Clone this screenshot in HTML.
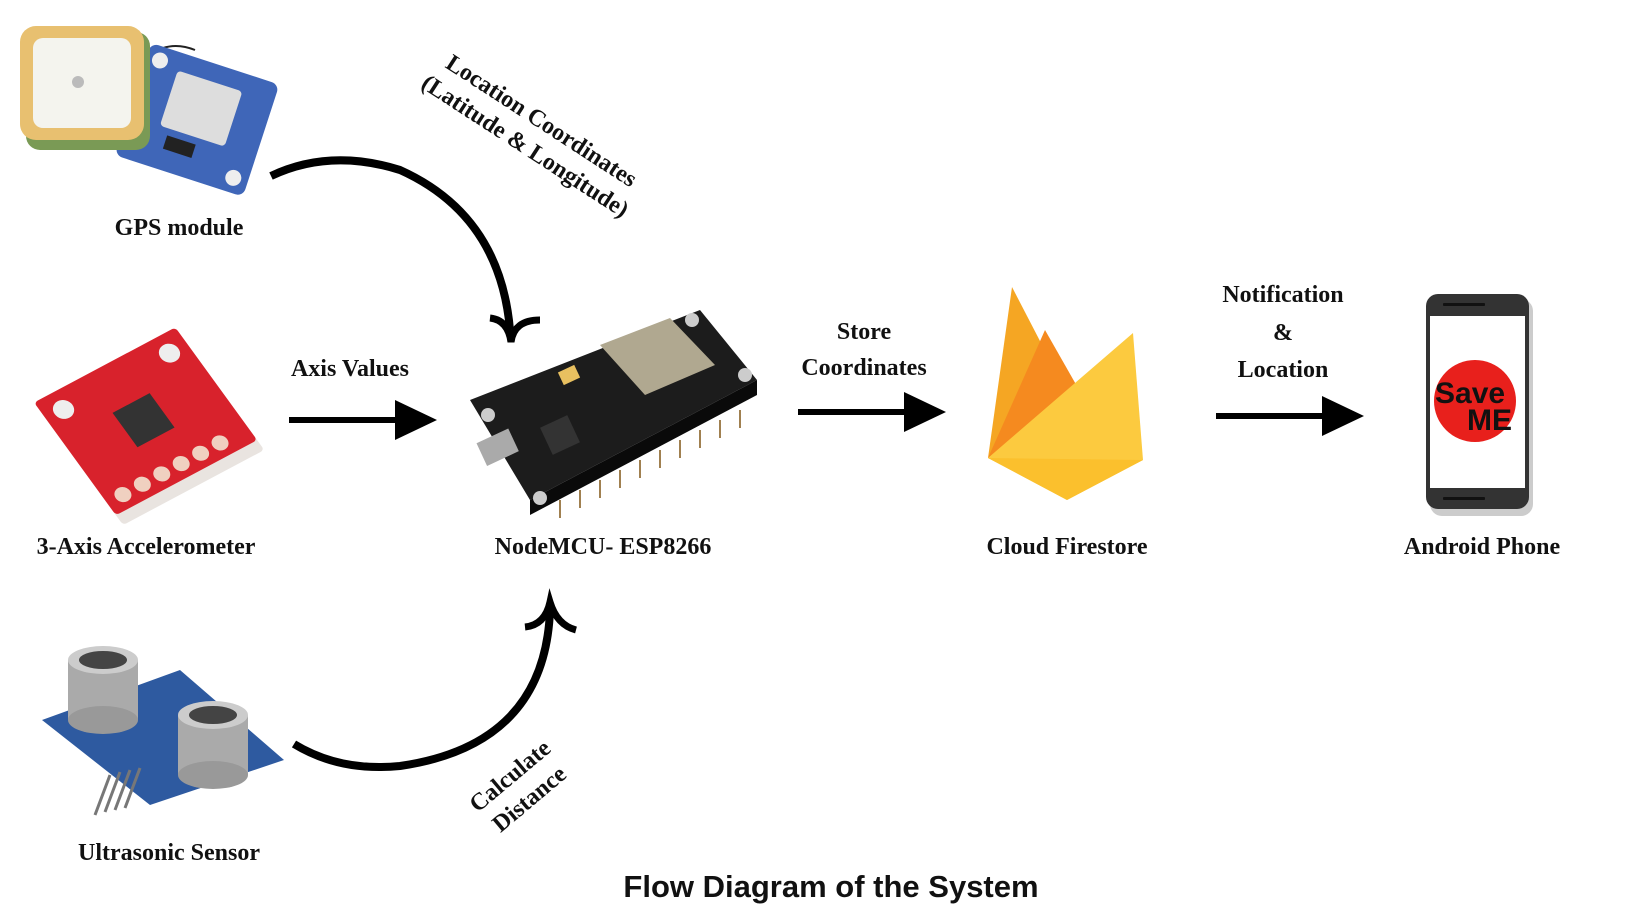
<!DOCTYPE html>
<html><head><meta charset="utf-8"><style>
body{margin:0;background:#fff;width:1640px;height:924px;overflow:hidden;position:relative}
svg{position:absolute;left:0;top:0}
.l{font-family:"Liberation Serif",serif;font-weight:bold;font-size:24px;fill:#111}
</style></head><body>
<svg width="1640" height="924" viewBox="0 0 1640 924">
<!-- GPS module -->
<g>
<path d="M150 55 Q170 40 195 50" stroke="#222" stroke-width="2" fill="none"/>
<g transform="rotate(18 200 125)"><rect x="128" y="62" width="135" height="118" rx="8" fill="#3f66b8"/>
<rect x="162" y="80" width="68" height="58" rx="4" fill="#ddd"/><circle cx="142" cy="76" r="8" fill="#eee"/><circle cx="248" cy="165" r="8" fill="#eee"/>
<rect x="172" y="145" width="30" height="14" fill="#222"/></g>
<rect x="26" y="32" width="124" height="118" rx="14" fill="#7a9a55"/>
<rect x="20" y="26" width="124" height="114" rx="16" fill="#e8c070"/>
<rect x="33" y="38" width="98" height="90" rx="10" fill="#f4f4ee"/>
<circle cx="78" cy="82" r="6" fill="#bbb"/>
</g>
<text class="l" x="179" y="235" text-anchor="middle">GPS module</text>
<!-- Accelerometer -->
<g transform="translate(148 428) rotate(-28) skewX(8) translate(-148 -428)">
<rect x="70" y="362" width="160" height="140" rx="4" fill="#e9e4e0"/>
<rect x="70" y="352" width="160" height="138" rx="4" fill="#d8222c"/>
<rect x="128" y="398" width="42" height="42" fill="#333"/>
<circle cx="88" cy="475" r="8" fill="#f0d0c0"/><circle cx="110" cy="475" r="8" fill="#f0d0c0"/><circle cx="132" cy="475" r="8" fill="#f0d0c0"/><circle cx="154" cy="475" r="8" fill="#f0d0c0"/><circle cx="176" cy="475" r="8" fill="#f0d0c0"/><circle cx="198" cy="475" r="8" fill="#f0d0c0"/>
<circle cx="90" cy="372" r="10" fill="#eee"/><circle cx="210" cy="372" r="10" fill="#eee"/>
</g>
<text class="l" x="146" y="554" text-anchor="middle">3-Axis Accelerometer</text>
<!-- Ultrasonic -->
<g>
<polygon points="42,720 180,670 284,760 150,805" fill="#2e5aa0"/>
<path d="M110 775 L95 815 M120 772 L105 812 M130 770 L115 810 M140 768 L125 808" stroke="#777" stroke-width="3"/>
<rect x="68" y="660" width="70" height="60" fill="#aaa"/><ellipse cx="103" cy="720" rx="35" ry="14" fill="#999"/><ellipse cx="103" cy="660" rx="35" ry="14" fill="#ccc"/><ellipse cx="103" cy="660" rx="24" ry="9" fill="#444"/>
<rect x="178" y="715" width="70" height="60" fill="#aaa"/><ellipse cx="213" cy="775" rx="35" ry="14" fill="#999"/><ellipse cx="213" cy="715" rx="35" ry="14" fill="#ccc"/><ellipse cx="213" cy="715" rx="24" ry="9" fill="#444"/>
</g>
<text class="l" x="169" y="860" text-anchor="middle">Ultrasonic Sensor</text>
<!-- NodeMCU -->
<g>
<polygon points="470,400 700,310 757,380 530,500" fill="#1c1c1c"/>
<polygon points="530,500 757,380 757,395 530,515" fill="#0a0a0a"/>
<g stroke="#a08050" stroke-width="2"><path d="M560 500 v18 M580 490 v18 M600 480 v18 M620 470 v18 M640 460 v18 M660 450 v18 M680 440 v18 M700 430 v18 M720 420 v18 M740 410 v18"/></g>
<polygon points="600,345 670,318 715,365 645,395" fill="#b0a890"/>
<rect x="560" y="368" width="18" height="14" fill="#e8c060" transform="rotate(-25 569 375)"/>
<rect x="480" y="435" width="35" height="25" fill="#aaa" transform="rotate(-25 497 447)"/>
<rect x="545" y="420" width="30" height="30" fill="#333" transform="rotate(-25 560 435)"/>
<circle cx="488" cy="415" r="7" fill="#ccc"/><circle cx="692" cy="320" r="7" fill="#ccc"/><circle cx="745" cy="375" r="7" fill="#ccc"/><circle cx="540" cy="498" r="7" fill="#ccc"/>
</g>
<text class="l" x="603" y="554" text-anchor="middle">NodeMCU- ESP8266</text>
<!-- Firebase -->
<g>
<polygon points="988,458 1012,287 1068,395" fill="#f5a623"/>
<polygon points="988,458 1045,330 1082,395" fill="#f58a1f"/>
<polygon points="988,458 1133,333 1143,460 1067,500" fill="#fcca3f"/>
<polygon points="988,458 1067,500 1143,460" fill="#fbc02d"/>
</g>
<text class="l" x="1067" y="554" text-anchor="middle">Cloud Firestore</text>
<!-- Phone -->
<g>
<rect x="1430" y="299" width="103" height="217" rx="12" fill="#ccc"/>
<rect x="1426" y="294" width="103" height="215" rx="12" fill="#333"/>
<rect x="1430" y="316" width="95" height="172" fill="#fff"/>
<rect x="1443" y="303" width="42" height="3" rx="1" fill="#111"/>
<rect x="1443" y="497" width="42" height="3" rx="1" fill="#111"/>
<circle cx="1475" cy="401" r="41" fill="#e8201c"/>
<text x="1435" y="403" font-family="Liberation Sans,sans-serif" font-size="30" font-weight="bold" fill="#111">Save</text>
<text x="1467" y="430" font-family="Liberation Sans,sans-serif" font-size="30" font-weight="bold" fill="#111">ME</text>
</g>
<text class="l" x="1482" y="554" text-anchor="middle">Android Phone</text>
<!-- straight arrows -->
<g fill="#000">
<rect x="289" y="417" width="110" height="6"/><polygon points="395,400 437,420 395,440"/>
<rect x="798" y="409" width="110" height="6"/><polygon points="904,392 946,412 904,432"/>
<rect x="1216" y="413" width="110" height="6"/><polygon points="1322,396 1364,416 1322,436"/>
</g>
<text class="l" x="350" y="376" text-anchor="middle">Axis Values</text>
<text class="l" x="864" y="339" text-anchor="middle">Store</text>
<text class="l" x="864" y="375" text-anchor="middle">Coordinates</text>
<text class="l" x="1283" y="302" text-anchor="middle">Notification</text>
<text class="l" x="1283" y="340" text-anchor="middle">&amp;</text>
<text class="l" x="1283" y="377" text-anchor="middle">Location</text>
<!-- curves -->
<path d="M271 176 Q330 148 400 170 Q500 215 510 330" stroke="#000" stroke-width="8" fill="none"/>
<path d="M490 318 Q508 320 511 342 Q514 320 540 320" stroke="#000" stroke-width="7" fill="none"/>
<path d="M294 744 Q340 772 400 766 Q545 745 550 610" stroke="#000" stroke-width="8" fill="none"/>
<path d="M525 627 Q545 625 550 602 Q557 625 576 630" stroke="#000" stroke-width="7" fill="none"/>
<g transform="translate(533 134) rotate(33)">
<text class="l" x="0" y="-8" text-anchor="middle">Location Coordinates</text>
<text class="l" x="0" y="22" text-anchor="middle">(Latitude &amp; Longitude)</text>
</g>
<g transform="translate(520 788) rotate(-40)">
<text class="l" x="0" y="-8" text-anchor="middle">Calculate</text>
<text class="l" x="0" y="22" text-anchor="middle">Distance</text>
</g>
<text x="831" y="897" text-anchor="middle" font-family="Liberation Sans,sans-serif" font-weight="bold" font-size="31" fill="#111">Flow Diagram of the System</text>
</svg>
</body></html>
